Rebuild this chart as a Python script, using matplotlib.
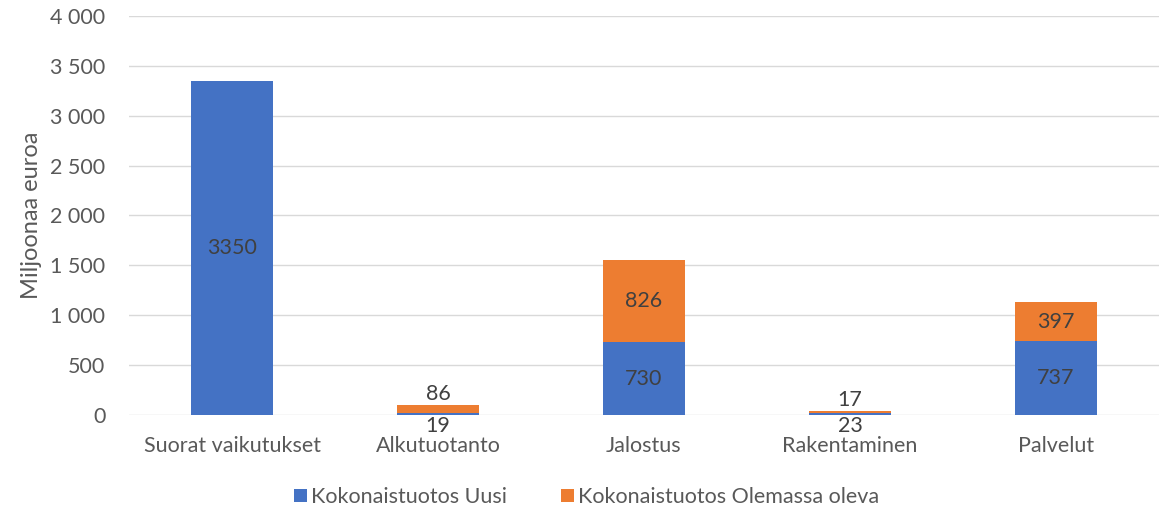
import matplotlib
matplotlib.use('Agg')
import matplotlib.pyplot as plt
from matplotlib.ticker import FuncFormatter

plt.rcParams['font.family'] = ['Lato', 'DejaVu Sans']

categories = ['Suorat vaikutukset', 'Alkutuotanto', 'Jalostus', 'Rakentaminen', 'Palvelut']
uusi = [3350, 19, 730, 23, 737]
olemassa = [0, 86, 826, 17, 397]
series_names = ['Kokonaistuotos Uusi', 'Kokonaistuotos Olemassa oleva']

blue = '#4472c4'
orange = '#ed7d31'
txt = '#595959'
lbl = '#404040'
fs = 15.5

fig = plt.figure(figsize=(11.73, 5.14), dpi=100)
ax = fig.add_axes([0.110, 0.1926, 0.878, 0.7763])

x = list(range(len(categories)))
w = 0.4
ax.bar(x, uusi, w, color=blue, label=series_names[0], zorder=3)
ax.bar(x, olemassa, w, bottom=uusi, color=orange, label=series_names[1], zorder=3)

# data labels (small bars: put labels outside like the original)
for i in x:
    u, o = uusi[i], olemassa[i]
    if u + o < 300:
        ax.text(i, u + o + 10, str(o), ha='center', va='bottom', fontsize=fs, color=lbl)
        ax.text(i, -10, str(u), ha='center', va='top', fontsize=fs, color=lbl)
    else:
        ax.text(i, u / 2, str(u), ha='center', va='center', fontsize=fs, color=lbl)
        if o > 0:
            ax.text(i, u + o / 2, str(o), ha='center', va='center', fontsize=fs, color=lbl)

ax.set_xlim(-0.5, len(categories) - 0.5)
ax.set_ylim(0, 4000)
ax.set_yticks(range(0, 4001, 500))
ax.yaxis.set_major_formatter(FuncFormatter(lambda v, p: '{:,.0f}'.format(v).replace(',', ' ')))
ax.set_xticks(x)
ax.set_xticklabels(categories)
ax.tick_params(axis='both', length=0, labelsize=fs, colors=txt)
ax.tick_params(axis='x', pad=15)
ax.tick_params(axis='y', pad=17)
ax.grid(axis='y', color='#d9d9d9', linewidth=1, zorder=0)
for s in ax.spines.values():
    s.set_visible(False)
ax.set_ylabel('Miljoonaa euroa', fontsize=17, color=txt, labelpad=6)

fig.legend(loc='center', bbox_to_anchor=(0.5, 0.033), ncol=2, frameon=False,
           fontsize=fs, labelcolor=txt, handlelength=0.6, handleheight=0.6,
           handletextpad=0.2, columnspacing=2.5)

fig.savefig('out.png', dpi=100)
